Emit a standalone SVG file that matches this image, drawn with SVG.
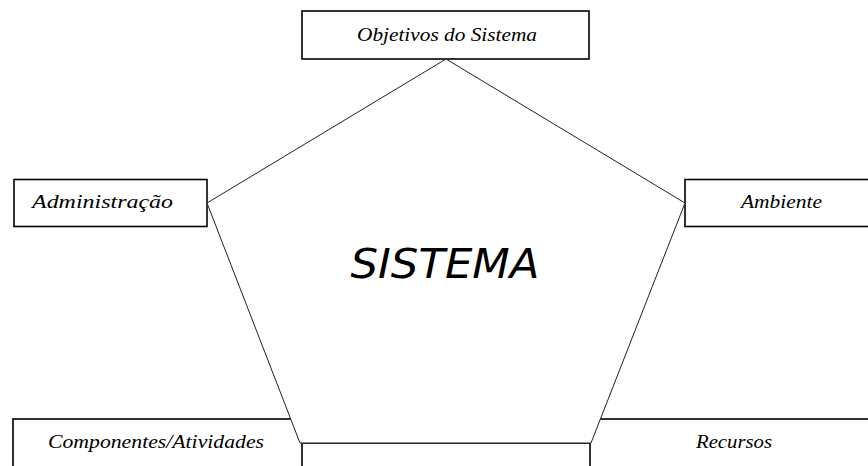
<svg xmlns="http://www.w3.org/2000/svg" width="868" height="466" viewBox="0 0 868 466">
<style>
.box{fill:#fff;stroke:#000;stroke-width:1.6}
.lbl{font-family:"Liberation Serif","Times New Roman",serif;font-style:italic;font-size:19px;fill:#000;text-anchor:middle}
.pent{fill:#fff;stroke:#222;stroke-width:1}
.big{font-family:"DejaVu Sans",Verdana,sans-serif;font-style:italic;font-size:40px;fill:#000;text-anchor:middle}
</style>
<rect width="868" height="466" fill="#fff"/>
<g id="objetivos">
<rect class="box" x="302" y="11" width="287" height="48"/>
<text class="lbl" x="447" y="41" textLength="180" lengthAdjust="spacingAndGlyphs">Objetivos do Sistema</text>
</g>
<g id="administracao">
<rect class="box" x="14" y="179.5" width="193" height="47"/>
<text class="lbl" x="102.5" y="207.5" textLength="141" lengthAdjust="spacingAndGlyphs">Administração</text>
</g>
<g id="ambiente">
<rect class="box" x="685" y="179.5" width="200" height="47"/>
<text class="lbl" x="781.5" y="207.5" textLength="81" lengthAdjust="spacingAndGlyphs">Ambiente</text>
</g>
<g id="componentes">
<rect class="box" x="13" y="419" width="320" height="60"/>
<text class="lbl" x="156" y="448" textLength="216" lengthAdjust="spacingAndGlyphs">Componentes/Atividades</text>
</g>
<g id="recursos">
<rect class="box" x="560" y="419" width="320" height="60"/>
<text class="lbl" x="734" y="448" textLength="76" lengthAdjust="spacingAndGlyphs">Recursos</text>
</g>
<g id="centro">
<rect class="box" x="302" y="443" width="288" height="40"/>
</g>
<g id="connectors">
<polygon class="pent" points="446,59 685,203 591,443 300,443 207,203"/>
</g>
<g id="sistema">
<text class="big" x="445" y="278" textLength="189" lengthAdjust="spacingAndGlyphs">SISTEMA</text>
</g>
</svg>
